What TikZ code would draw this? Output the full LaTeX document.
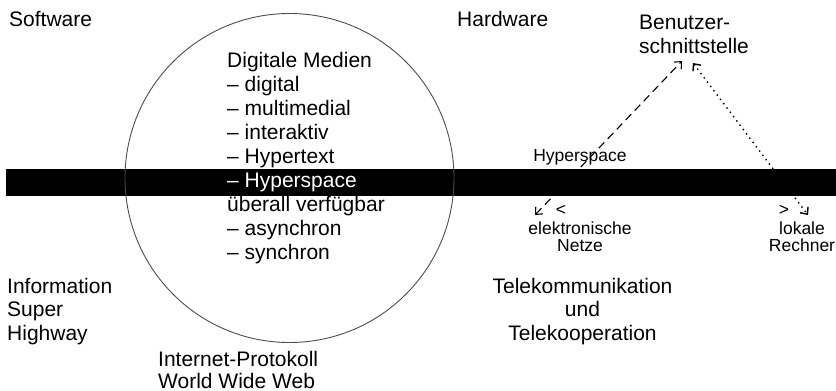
\documentclass[tikz,border=0pt]{standalone}
\usepackage{fontspec}
\setmainfont{Liberation Sans}
\usetikzlibrary{arrows.meta}

\begin{document}
\begin{tikzpicture}[x=1pt, y=-1pt,
    lbl/.style={anchor=base west, inner sep=0pt, align=left,
        font=\fontsize{21}{23.5}\selectfont},
    clbl/.style={lbl, anchor=base, align=center},
    sml/.style={anchor=base, inner sep=0pt, align=center,
        font=\fontsize{17.5}{17.5}\selectfont},
    link/.style={{Straight Barb[length=5.5pt,width=10pt]}-{Straight Barb[length=5.5pt,width=10pt]},
        line width=1.1pt}
]
    \useasboundingbox (0,0) rectangle (836,391);

    % Endpunkte der Pfeile
    \coordinate (ui-l) at (682,61);
    \coordinate (ui-r) at (693,63);
    \coordinate (netz-top) at (535,215);
    \coordinate (rech-top) at (808,215);

    \draw[link, dash pattern=on 8pt off 5pt] (netz-top) -- (ui-l);
    \draw[link, line width=1.4pt, dash pattern=on 1.4pt off 4pt] (ui-r) -- (rech-top);

    % Balken und Kreis
    \fill[black] (6,169) rectangle (836,196);
    \node[circle, draw=black!70, line width=0.9pt, minimum size=329pt, inner sep=0pt] (medien) at (289.5,178) {};

    % base = Grundlinie der letzten Zeile
    \node[lbl] (sw) at (9,26.5) {Software};
    \node[lbl] (hw) at (457,26.5) {Hardware};
    \node[lbl] (ui) at (639,53) {Benutzer-\\schnittstelle};

    \node[lbl, font=\fontsize{21}{24}\selectfont] (dm) at (227,259)
        {Digitale Medien\\ -- digital\\ -- multimedial\\ -- interaktiv\\ -- Hypertext\\
         \textcolor{white}{-- Hyperspace}\\ überall verfügbar\\ -- asynchron\\ -- synchron};

    \node[sml] (hs) at (580,161) {Hyperspace};
    \node[sml] (lt) at (561,215) {<};
    \node[sml] (gt) at (784,215) {>};
    \node[sml] (netze) at (580,251.5) {elektronische\\Netze};
    \node[sml] (rechner) at (802,251.5) {lokale\\Rechner};

    \node[lbl] (ish) at (7,340) {Information\\Super\\Highway};
    \node[clbl] (tk) at (582.5,340) {Telekommunikation\\und\\Telekooperation};
    \node[lbl, font=\fontsize{21}{22}\selectfont] (www) at (158,388) {Internet-Protokoll\\World Wide Web};
\end{tikzpicture}
\end{document}
